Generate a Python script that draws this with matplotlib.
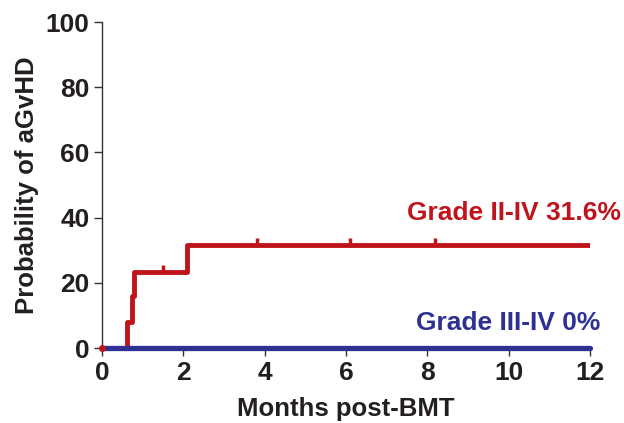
import matplotlib
matplotlib.use("Agg")
import matplotlib.pyplot as plt

# Data: stepwise cumulative incidence (months, percent)
red_x = [0, 0.61, 0.73, 0.79, 2.08, 12]
red_y = [0, 7.9, 15.8, 23.4, 31.6, 31.6]
red_cens_x = [1.5, 3.8, 6.1, 8.2]
red_cens_y = [23.4, 31.6, 31.6, 31.6]
blue_x = [0, 12]
blue_y = [0, 0]

xticks = [0, 2, 4, 6, 8, 10, 12]
yticks = [0, 20, 40, 60, 80, 100]

red = "#c0141c"
blue = "#2e3192"
dark = "#231f20"

plt.rcParams['font.family'] = ['Liberation Sans', 'DejaVu Sans']
plt.rcParams['font.weight'] = 'bold'

fig = plt.figure(figsize=(6.24, 4.23), dpi=100)
ax = fig.add_axes([102/624, 1-348/423, 488/624, 326/423])

ax.step(red_x, red_y, where='post', color=red, lw=3.5, solid_capstyle='butt', zorder=3)
ax.step(blue_x, blue_y, where='post', color=blue, lw=3.8, solid_capstyle='round',
        zorder=4, clip_on=False)
ax.plot(red_cens_x, [v + 1.2 for v in red_cens_y], linestyle='none', marker='|', markersize=5,
        mew=2.5, color=red, zorder=3)
ax.plot([0], [0], marker='o', markersize=4, color=red, zorder=5, clip_on=False)

ax.set_xlim(0, 12)
ax.set_ylim(0, 100)
ax.set_xticks(xticks)
ax.set_yticks(yticks)
ax.tick_params(direction='out', length=6, width=1, color='#333333', labelsize=19, pad=3)
for lab in ax.get_xticklabels() + ax.get_yticklabels():
    lab.set_fontweight('bold')
    lab.set_color(dark)
for s in ['top', 'right']:
    ax.spines[s].set_visible(False)
for s in ['left', 'bottom']:
    ax.spines[s].set_color('#333333')
    ax.spines[s].set_linewidth(1)

ax.set_xlabel("Months post-BMT", fontsize=18.5, fontweight='bold', color=dark, labelpad=9)
ax.set_ylabel("Probability of aGvHD", fontsize=18.5, fontweight='bold', color=dark, labelpad=5)

ax.text(12.76, 41.4, "Grade II-IV 31.6%", color=red, fontsize=19, fontweight='bold',
        ha='right', va='center', clip_on=False)
ax.text(12.25, 7.7, "Grade III-IV 0%", color=blue, fontsize=19, fontweight='bold',
        ha='right', va='center', clip_on=False)

fig.savefig("out.png", dpi=100)
